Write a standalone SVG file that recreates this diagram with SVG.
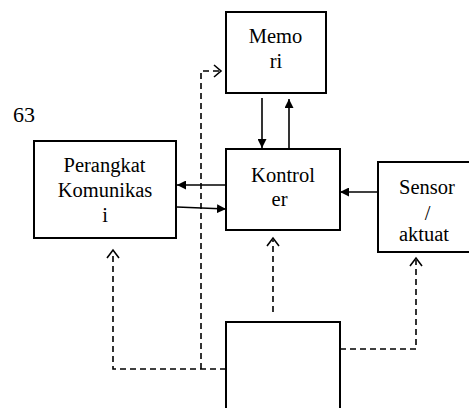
<svg xmlns="http://www.w3.org/2000/svg" width="469" height="408" viewBox="0 0 469 408" font-family="Liberation Serif" font-size="20.5">
<style>
.box{fill:#fff;stroke:#000;stroke-width:2}
.t{text-anchor:middle;fill:#000}
.s{fill:none;stroke:#000;stroke-width:1.6}
.d{fill:none;stroke:#000;stroke-width:1.6;stroke-dasharray:6 4}
.ch{fill:none;stroke:#000;stroke-width:1.6}
</style>
<defs>
<marker id="fa" viewBox="0 0 10 10" refX="10" refY="5" markerWidth="9" markerHeight="9" markerUnits="userSpaceOnUse" orient="auto"><path d="M0,0 L10,5 L0,10 Z" fill="#000"/></marker>
</defs>
<rect width="469" height="408" fill="#fff"/>
<text x="13" y="122" font-size="22">63</text>
<g id="connectors">
<line class="s" x1="262" y1="98" x2="262" y2="148" marker-end="url(#fa)"/>
<line class="s" x1="289" y1="148" x2="289" y2="99" marker-end="url(#fa)"/>
<line class="s" x1="226" y1="185" x2="177" y2="185" marker-end="url(#fa)"/>
<line class="s" x1="177" y1="207" x2="226" y2="209" marker-end="url(#fa)"/>
<line class="s" x1="378" y1="192" x2="340" y2="192" marker-end="url(#fa)"/>
<polyline class="d" points="226,369 113,369 113,252"/>
<polyline class="ch" points="107,258 113,250 119,258"/>
<polyline class="d" points="201,369 201,71 220,71"/>
<polyline class="ch" points="214,65 221,71 214,77"/>
<line class="d" x1="273" y1="312" x2="273" y2="240"/>
<polyline class="ch" points="267,246 273,238 279,246"/>
<polyline class="d" points="340,349 416,349 416,260"/>
<polyline class="ch" points="410,266 416,258 422,266"/>
</g>
<g id="memori">
<rect class="box" x="226" y="12" width="100" height="81"/>
<text class="t" x="275.5" y="43">Memo</text>
<text class="t" x="276" y="68">ri</text>
</g>
<g id="kontroler">
<rect class="box" x="226" y="149" width="114" height="81"/>
<text class="t" x="283" y="182">Kontrol</text>
<text class="t" x="279.5" y="206">er</text>
</g>
<g id="perangkat">
<rect class="box" x="34" y="141" width="142" height="97"/>
<text class="t" x="104.5" y="172">Perangkat</text>
<text class="t" x="105" y="197">Komunikas</text>
<text class="t" x="105" y="222">i</text>
</g>
<g id="sensor">
<rect class="box" x="378" y="162" width="100" height="90"/>
<text class="t" x="427" y="194">Sensor</text>
<text class="t" x="427.5" y="220">/</text>
<text class="t" x="424" y="241">aktuat</text>
</g>
<g id="bottom">
<rect class="box" x="226" y="322" width="114" height="100"/>
</g>
</svg>
